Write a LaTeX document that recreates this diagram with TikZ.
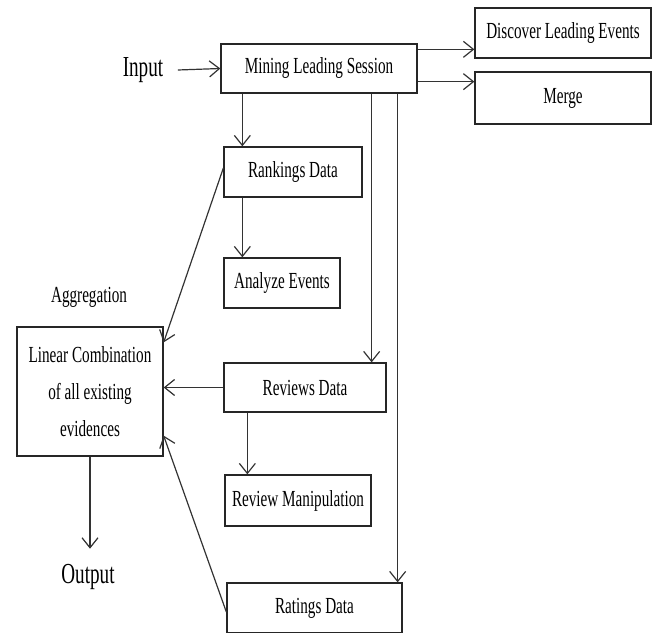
\documentclass[tikz,border=0pt]{standalone}
\usepackage{fontspec}
\setmainfont{Liberation Serif}[FakeStretch=0.66]
\usepackage{xcolor}
\usepackage{tikz}
\usetikzlibrary{arrows.meta, positioning}

\begin{document}
\begin{tikzpicture}[x=1pt, y=-1pt,
  >={Straight Barb[length=10pt,width=16pt]},
  line width=1.2pt,
  box/.style={draw=black!85, line width=1.3pt, inner sep=0pt, align=center,
    font=\fontsize{23}{37}\selectfont},
  lbl/.style={font=\fontsize{23}{28}\selectfont},
  bigtext/.style={font=\fontsize{29}{34}\selectfont},
  link/.style={draw=black!80, ->}]
  \clip (0,0) rectangle (656,632);

  % top row
  \node[bigtext, inner xsep=14pt] (input) at (143,70) {Input};
  \node[box, minimum width=196, minimum height=49] (mls) at (319,68.5) {Mining Leading Session};
  \node[box, minimum width=176, minimum height=50] (dle) at (563,33) {Discover Leading Events};
  \node[box, minimum width=176, minimum height=52] (merge) at (563,98) {Merge};

  % data sources
  \node[box, minimum width=138, minimum height=50] (rank) at (293,172) {Rankings Data};
  \node[box, minimum width=116, minimum height=50] (anlz) at (282,283) {Analyze Events};
  \node[box, minimum width=162, minimum height=49] (rev) at (305,387.5) {Reviews Data};
  \node[box, minimum width=146, minimum height=51] (revm) at (298,500.5) {Review Manipulation};
  \node[box, minimum width=175, minimum height=50] (rate) at (314.5,608) {Ratings Data};

  % aggregation
  \node[lbl] (aggr) at (89,297) {Aggregation};
  \node[box, minimum width=146, minimum height=129] (lin) at (90,391.5)
    {Linear Combination\\of all existing\\evidences};
  \node[bigtext, inner ysep=15pt] (out) at (88,577) {Output};

  % connectors
  \draw[link] (input.east) -- (mls.west);
  \draw[link] ([yshift=-6]mls.north east) -- ([yshift=-6]mls.north east -| dle.west);
  \draw[link] ([yshift=12]mls.south east) -- ([yshift=12]mls.south east -| merge.west);
  \draw[link] ([xshift=19]rank.north west |- mls.south) -- ([xshift=19]rank.north west);
  \draw[link] ([xshift=19]rank.south west) -- ([xshift=19]rank.south west |- anlz.north);
  \draw[link] ([xshift=-15]rev.north east |- mls.south) -- ([xshift=-15]rev.north east);
  \draw[link] ([xshift=-5]rate.north east |- mls.south) -- ([xshift=-5]rate.north east);
  \draw[link] ([yshift=4]rank.west) -- ([yshift=-16]lin.north east);
  \draw[link] (rev.west) -- (rev.west -| lin.east);
  \draw[link] ([xshift=24]rev.south west) -- ([xshift=24]rev.south west |- revm.north);
  \draw[link] ([yshift=-4]rate.west) -- ([yshift=21]lin.south east);
  \draw[link] (lin.south) -- (lin.south |- out.north);
\end{tikzpicture}
\end{document}
